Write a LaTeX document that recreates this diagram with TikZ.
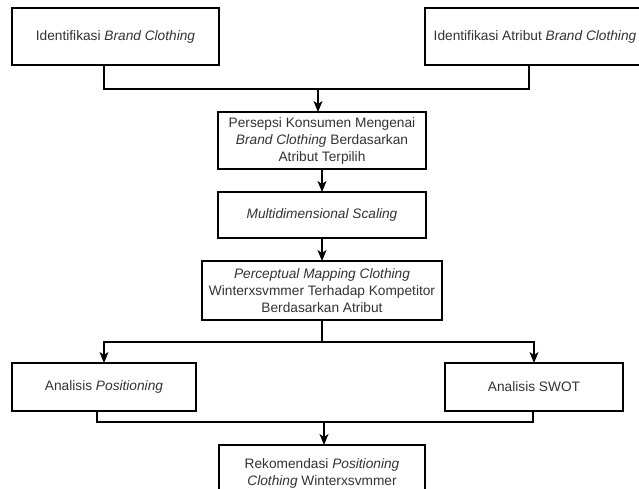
\documentclass[tikz,border=0pt]{standalone}
\usepackage{fontspec}
\setmainfont{Liberation Sans}
\usetikzlibrary{arrows.meta, positioning}

\begin{document}
\begin{tikzpicture}[
    x=1pt, y=1pt,
    node distance=23pt and 20pt,
    box/.style={draw, rectangle, line width=1.1pt, align=center, inner sep=0pt, outer sep=0pt, minimum height=57pt, font=\fontsize{13.7}{17}\selectfont, text=black!80},
    line/.style={line width=1.1pt},
    arrow/.style={-{Stealth[length=11pt, width=9pt, inset=3pt]}, line width=1.1pt}
    ]

    \fill[white] (0,0) rectangle (639,-488);
    \useasboundingbox (0,0) rectangle (639,-488);

    \node[box, minimum width=207pt] (brand) at (115.5,-36.5) {Identifikasi \textit{Brand Clothing}};
    \node[box, minimum width=220pt] (atribut) at (535,-36.5) {Identifikasi Atribut \textit{Brand Clothing}};
    \node[box, minimum width=208pt] (persepsi) at (322,-140.5) {Persepsi Konsumen Mengenai\\\textit{Brand Clothing} Berdasarkan\\Atribut Terpilih};
    \node[box, minimum width=208pt, minimum height=46pt, below=of persepsi] (mds) {\textit{Multidimensional Scaling}};
    \node[box, minimum width=240pt, minimum height=59pt, below=of mds] (mapping) {\textit{Perceptual Mapping Clothing}\\Winterxsvmmer Terhadap Kompetitor\\Berdasarkan Atribut};
    \node[box, minimum width=184pt, minimum height=48pt] (posisi) at (104,-387) {Analisis \textit{Positioning}};
    \node[box, minimum width=178pt, minimum height=48pt] (swot) at (534,-387) {Analisis SWOT};
    \node[box, minimum width=206pt] (rekom) at (322,-473.5) {Rekomendasi \textit{Positioning}\\\textit{Clothing} Winterxsvmmer};

    \coordinate (topjoin) at (318,-89);
    \draw[line] ([xshift=-11.5pt]brand.south) |- (topjoin) -| ([xshift=-6pt]atribut.south);
    \draw[arrow] (topjoin) -- (topjoin |- persepsi.north);
    \draw[arrow] (persepsi) -- (mds);
    \draw[arrow] (mds) -- (mapping);
    \draw[line] (mapping.south) -- ++(0,-22) coordinate (midjoin);
    \draw[arrow] (midjoin) -| (posisi.north);
    \draw[arrow] (midjoin) -| (swot.north);
    \coordinate (botjoin) at (324,-422);
    \draw[line] ([xshift=-7pt]posisi.south) |- (botjoin) -| ([xshift=-1pt]swot.south);
    \draw[arrow] (botjoin) -- (botjoin |- rekom.north);

\end{tikzpicture}
\end{document}
